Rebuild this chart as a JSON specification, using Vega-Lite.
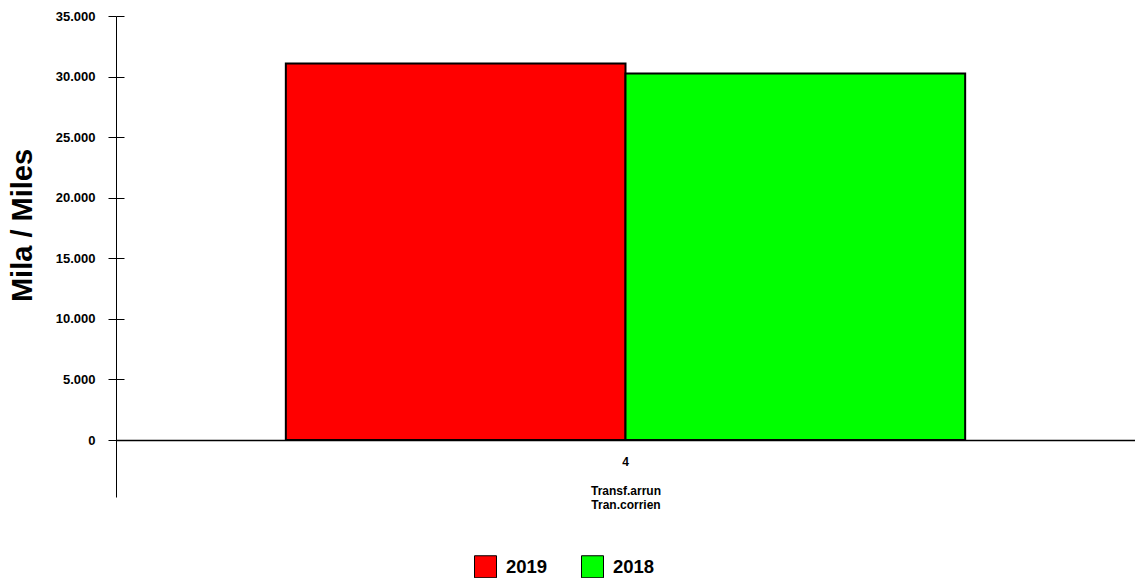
{
  "$schema": "https://vega.github.io/schema/vega-lite/v6.json",
  "width": 1019,
  "height": 481,
  "autosize": {"type": "none"},
  "padding": {"left": 116, "top": 16, "right": 0, "bottom": 81},
  "config": {
    "view": {"stroke": null},
    "font": "Liberation Sans",
    "locale": {"number": {"decimal": ",", "thousands": ".", "grouping": [3], "currency": ["", " €"]}}
  },
  "data": {"values": [
    {"categoria": "4", "anno": "2019", "miles": 31080},
    {"categoria": "4", "anno": "2018", "miles": 30250}
  ]},
  "resolve": {"axis": {"y": "independent"}},
  "layer": [
    {
      "mark": {"type": "bar", "stroke": "#000000", "strokeWidth": 2},
      "encoding": {
        "x": {
          "field": "categoria", "type": "nominal",
          "scale": {"paddingInner": 0, "paddingOuter": 0.25},
          "axis": {
            "title": ["Transf.arrun", "Tran.corrien"],
            "offset": -57, "ticks": false, "labelAngle": 0,
            "labelFontSize": 12, "labelFontWeight": "bold", "labelColor": "#000", "labelPadding": 16,
            "titleFontSize": 12, "titleFontWeight": "bold", "titleColor": "#000", "titlePadding": 18, "titleLineHeight": 14,
            "domainColor": "#000", "domainWidth": 1.5
          }
        },
        "xOffset": {"field": "anno", "sort": ["2019", "2018"]},
        "y": {
          "field": "miles", "type": "quantitative",
          "scale": {"domain": [-4705, 35000], "nice": false},
          "axis": {
            "orient": "left",
            "values": [0, 5000, 10000, 15000, 20000, 25000, 30000, 35000],
            "format": ",.0f", "grid": false,
            "labelFontSize": 13, "labelFontWeight": "bold", "labelColor": "#000", "labelPadding": 13,
            "tickSize": 8, "tickColor": "#000", "domainColor": "#000",
            "title": "Mila / Miles", "titleFontSize": 29, "titleFontWeight": "bold", "titleColor": "#000",
            "titleAngle": -90, "titleAlign": "center", "titleBaseline": "middle", "titleX": -94, "titleY": 209
          }
        },
        "y2": {"datum": 0},
        "color": {
          "field": "anno", "type": "nominal",
          "scale": {"domain": ["2019", "2018"], "range": ["#ff0000", "#00ff00"]},
          "legend": {
            "orient": "none", "legendX": 358, "legendY": 539, "direction": "horizontal",
            "title": null, "padding": 0, "symbolType": "square", "symbolSize": 484,
            "symbolStrokeColor": "#000", "symbolStrokeWidth": 1, "symbolOpacity": 1,
            "labelFontSize": 18.5, "labelFontWeight": "bold", "labelColor": "#000",
            "labelOffset": 9, "columnPadding": 31
          }
        }
      }
    },
    {
      "mark": {"type": "rule", "strokeOpacity": 0},
      "encoding": {
        "y": {
          "field": "miles", "type": "quantitative",
          "axis": {
            "orient": "left", "offset": -8, "domain": false, "labels": false, "title": null, "grid": false,
            "tickSize": 8, "tickColor": "#000",
            "values": [0, 5000, 10000, 15000, 20000, 25000, 30000, 35000]
          }
        }
      }
    }
  ]
}
